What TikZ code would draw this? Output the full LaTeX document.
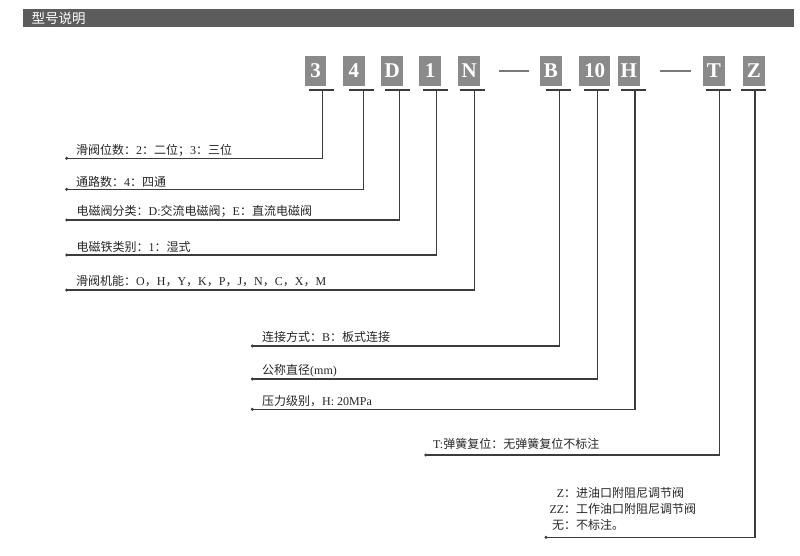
\documentclass[tikz,border=0pt]{standalone}
\usepackage{fontspec}
\setmainfont{Liberation Serif}
\newfontfamily\cjk{Noto Sans CJK SC}
\newcommand{\zhtxt}[1]{{\cjk #1}}

\definecolor{barGray}{HTML}{5C5C5C}
\definecolor{boxGray}{HTML}{8A8A8A}
\definecolor{lineGray}{HTML}{3C3C3C}
\definecolor{dashGray}{HTML}{7A7A7A}

\tikzset{
  codebox/.style={fill=boxGray, text=white, font=\bfseries\fontsize{21}{21}\selectfont,
    minimum width=21.5pt, minimum height=30pt, inner sep=0pt},
  tbar/.style={draw=lineGray, line width=1.6pt},
  leader/.style={draw=lineGray, line width=1.3pt},
  dashline/.style={draw=dashGray, line width=1.5pt},
  labeltext/.style={anchor=west, inner sep=0pt, text=black!85, font=\fontsize{12}{16}\selectfont},
}

\begin{document}
\begin{tikzpicture}[x=1pt,y=-1pt]
  \useasboundingbox (0,0) rectangle (800,556);

  % Title bar
  \fill[barGray] (22.7,9.3) rectangle (794,26.7);
  \node[anchor=west, inner sep=0pt, text=white, font=\cjk\fontsize{13.5}{13.5}\selectfont] (title) at (31.5,18) {型号说明};

  % Code boxes
  \foreach \name/\xc/\bw/\txt in {b3/315.5/21.5/3, b4/353.8/21.5/4, bD/392.2/21.5/D, b1/430/21.5/1,
      bN/469.2/21.5/N, bB/550.9/21.5/B, b10/594.7/31/10, bH/628.9/22/H, bT/713.8/21.5/T, bZ/753.9/22/Z} {
    \node[codebox, minimum width=\bw pt] (\name) at (\xc,70.8) {\txt};
  }

  % Dashes between groups
  \draw[dashline] ([xshift=19pt]bN.east) -- ([xshift=-11pt]bB.west);
  \draw[dashline] ([xshift=20pt]bH.east) -- ([xshift=-11.6pt]bT.west);

  % Labels
  \node[labeltext] (l3) at (76,150) {\zhtxt{滑阀位数：}2\zhtxt{：二位；}3\zhtxt{：三位}};
  \node[labeltext] (l4) at (76,181.7) {\zhtxt{通路数：}4\zhtxt{：四通}};
  \node[labeltext] (lD) at (76.5,211.5) {\zhtxt{电磁阀分类：}D:\zhtxt{交流电磁阀；}E\zhtxt{：直流电磁阀}};
  \node[labeltext] (l1) at (76.5,247.3) {\zhtxt{电磁铁类别：}1\zhtxt{：湿式}};
  \node[labeltext] (lN) at (76,281) {\zhtxt{滑阀机能：}O\zhtxt{，}H\zhtxt{，}Y\zhtxt{，}K\zhtxt{，}P\zhtxt{，}J\zhtxt{，}N\zhtxt{，}C\zhtxt{，}X\zhtxt{，}M};
  \node[labeltext] (lB) at (262,336.7) {\zhtxt{连接方式：}B\zhtxt{：板式连接}};
  \node[labeltext] (l10) at (262,370.7) {\zhtxt{公称直径}(mm)};
  \node[labeltext] (lH) at (262,401) {\zhtxt{压力级别，}H: 20MPa};
  \node[labeltext] (lT) at (433,444) {T:\zhtxt{弹簧复位：无弹簧复位不标注}};
  \node[labeltext] (lZ) at (549.3,510) {\begin{tabular}{@{}r@{}l@{}}
      Z\zhtxt{：} & \zhtxt{进油口附阻尼调节阀}\\
      ZZ\zhtxt{：} & \zhtxt{工作油口附阻尼调节阀}\\
      \zhtxt{无：} & \zhtxt{不标注。}
    \end{tabular}};

  % Leaders: joint under each box, dot at left end of each line
  \foreach \j/\jx/\dx/\ly in {3/322.5/66.7/158.3, 4/363.3/66.7/189.3, D/399.2/66.7/220,
      1/436.8/66.7/255, N/474.2/66.7/290, B/559.8/252.3/346, 10/597.7/252.3/379,
      H/635/252.3/409.3, T/719.7/425.7/455, Z/755/546/537.3} {
    \coordinate (j\j) at (\jx,90);
    \coordinate (d\j) at (\dx,\ly);
    \draw[tbar] ([xshift=-14pt]j\j) -- ([xshift=11pt]j\j);
    \draw[leader] (j\j) |- (d\j);
    \fill[lineGray] (d\j) circle (1.7);
  }
\end{tikzpicture}
\end{document}
